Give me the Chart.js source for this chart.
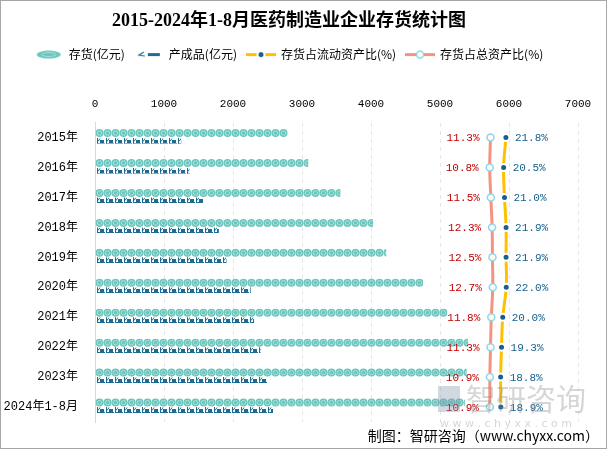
<!DOCTYPE html>
<html>
<head>
<meta charset="utf-8">
<script src="https://cdn.jsdelivr.net/npm/chart.js@4.4.1/dist/chart.umd.min.js"></script>
<style>
  html, body { margin: 0; padding: 0; background: #fff; }
</style>
</head>
<body>
<canvas id="chart" width="607" height="449"></canvas>
<script>
// ====== datos ======
const categories = ['2015年', '2016年', '2017年', '2018年', '2019年', '2020年', '2021年', '2022年', '2023年', '2024年1-8月'];
const inventory = [2790, 3090, 3555, 4030, 4220, 4755, 5105, 5405, 5385, 5360];   // 存货(亿元)
const finished = [1250, 1370, 1565, 1795, 1905, 2255, 2305, 2400, 2500, 2580];    // 产成品(亿元)
const ratioCurrent = [21.8, 20.5, 21.0, 21.9, 21.9, 22.0, 20.0, 19.3, 18.8, 18.9]; // 存货占流动资产比(%)
const ratioTotal = [11.3, 10.8, 11.5, 12.3, 12.5, 12.7, 11.8, 11.3, 10.9, 10.9];   // 存货占总资产比(%)
const xTicks = [0, 1000, 2000, 3000, 4000, 5000, 6000, 7000];

const TEAL = '#6cc6bd';
const NAVY = '#1d6a93';
const CJK = "'Noto Sans CJK SC'";

// dibujos de los iconos
function drawCoin(ctx, cx, cy, r) {
  ctx.beginPath();
  ctx.arc(cx, cy, r, 0, Math.PI * 2);
  ctx.fillStyle = TEAL;
  ctx.fill();
  ctx.beginPath();
  ctx.arc(cx, cy, r * 0.55, 0, Math.PI * 2);
  ctx.strokeStyle = '#a8e1db';
  ctx.lineWidth = 1;
  ctx.stroke();
}

function drawTruck(ctx, x0, top, h) {
  ctx.fillStyle = NAVY;
  ctx.fillRect(x0, top, 1, h);
  ctx.fillRect(x0 + 3, top + 2, 4, h - 3);
  ctx.fillRect(x0, top + h - 1, 8, 1);
  ctx.strokeStyle = NAVY;
  ctx.lineWidth = 1;
  ctx.beginPath();
  ctx.moveTo(x0 + 1, top + 3.5);
  ctx.lineTo(x0 + 3, top + 0.5);
  ctx.stroke();
}

function makeIcon(w, h, fn) {
  const c = document.createElement('canvas');
  c.width = w;
  c.height = h;
  fn(c.getContext('2d'));
  return c;
}

const legendIcons = [
  makeIcon(26, 9, (ctx) => {
    ctx.beginPath();
    ctx.ellipse(13, 4.5, 12, 4, 0, 0, Math.PI * 2);
    ctx.fillStyle = TEAL;
    ctx.fill();
    ctx.beginPath();
    ctx.ellipse(13, 4.5, 7, 2, 0, 0, Math.PI * 2);
    ctx.strokeStyle = '#a8e1db';
    ctx.stroke();
  }),
  makeIcon(24, 9, (ctx) => {
    ctx.strokeStyle = NAVY;
    ctx.lineWidth = 1.2;
    ctx.beginPath();
    ctx.moveTo(7, 2); ctx.lineTo(2, 5); ctx.lineTo(8, 6);
    ctx.stroke();
    ctx.fillStyle = NAVY;
    ctx.fillRect(11, 3, 12, 3);
  }),
  makeIcon(30, 11, (ctx) => {
    ctx.strokeStyle = '#ffc000';
    ctx.lineWidth = 3;
    ctx.beginPath();
    ctx.moveTo(0, 5.5); ctx.lineTo(30, 5.5);
    ctx.stroke();
    ctx.beginPath();
    ctx.arc(15, 5.5, 4.5, 0, Math.PI * 2);
    ctx.fillStyle = '#fff';
    ctx.fill();
    ctx.beginPath();
    ctx.arc(15, 5.5, 2.5, 0, Math.PI * 2);
    ctx.fillStyle = '#17608c';
    ctx.fill();
  }),
  makeIcon(30, 11, (ctx) => {
    ctx.strokeStyle = '#f4937f';
    ctx.lineWidth = 3;
    ctx.beginPath();
    ctx.moveTo(0, 5.5); ctx.lineTo(30, 5.5);
    ctx.stroke();
    ctx.beginPath();
    ctx.arc(15, 5.5, 3.5, 0, Math.PI * 2);
    ctx.fillStyle = '#fdfbea';
    ctx.fill();
    ctx.strokeStyle = '#8fd4f1';
    ctx.lineWidth = 1.5;
    ctx.stroke();
  })
];

// barras pictoricas (monedas / camiones)
const pictorial = {
  id: 'pictorial',
  afterDatasetDraw(chart, args) {
    const ds = chart.data.datasets[args.index];
    if (!ds.pictorial) return;
    const ctx = chart.ctx;
    args.meta.data.forEach((bar) => {
      const { x, y, base, height } = bar.getProps(['x', 'y', 'base', 'height'], true);
      const top = y - height / 2;
      ctx.save();
      ctx.beginPath();
      ctx.rect(base, top, x - base, height);
      ctx.clip();
      if (ds.pictorial === 'coin') {
        for (let cx = base; cx < x; cx += 8) drawCoin(ctx, cx + 4, y, 4);
      } else {
        for (let cx = base; cx < x; cx += 9) drawTruck(ctx, Math.round(cx) + 1, Math.round(top), height);
      }
      ctx.restore();
    });
  }
};

// etiquetas de porcentaje (dataset 0 = flujo, dataset 1 = total)
const ratioLabels = {
  id: 'ratioLabels',
  afterDatasetsDraw(chart) {
    const ctx = chart.ctx;
    ctx.save();
    ctx.font = "11px 'Liberation Mono'";
    ctx.textBaseline = 'middle';
    chart.getDatasetMeta(0).data.forEach((pt, i) => {
      ctx.fillStyle = '#17608c';
      ctx.textAlign = 'left';
      ctx.fillText(ratioCurrent[i].toFixed(1) + '%', pt.x + 9, pt.y + 1);
    });
    chart.getDatasetMeta(1).data.forEach((pt, i) => {
      ctx.fillStyle = '#c00000';
      ctx.textAlign = 'right';
      ctx.fillText(ratioTotal[i].toFixed(1) + '%', pt.x - 11, pt.y + 1);
    });
    ctx.restore();
  }
};

// fondo, marco, fuente y marca de agua
const frame = {
  id: 'frame',
  beforeDraw(chart) {
    const ctx = chart.ctx;
    ctx.save();
    ctx.fillStyle = '#fff';
    ctx.fillRect(0, 0, chart.width, chart.height);
    ctx.restore();
  },
  afterDraw(chart) {
    const ctx = chart.ctx;
    ctx.save();
    // marca de agua
    ctx.globalAlpha = 0.35;
    ctx.fillStyle = '#7f8fa6';
    ctx.fillRect(438, 386, 22, 26);
    ctx.fillStyle = '#8a8a8a';
    ctx.font = "30px " + CJK;
    ctx.textAlign = 'left';
    ctx.textBaseline = 'middle';
    ctx.fillText('智研咨询', 466, 399);
    ctx.font = "11px 'DejaVu Sans'";
    ctx.fillText('w w w . c h y x x . c o m', 440, 424);
    ctx.globalAlpha = 1;
    // fuente
    ctx.fillStyle = '#000';
    ctx.font = "14px " + CJK;
    ctx.textAlign = 'right';
    ctx.fillText('制图：智研咨询（www.chyxx.com）', 599, 436);
    // marco
    ctx.strokeStyle = '#a6a6a6';
    ctx.lineWidth = 1;
    ctx.strokeRect(0.5, 0.5, chart.width - 1, chart.height - 1);
    ctx.restore();
  }
};

new Chart(document.getElementById('chart'), {
  data: {
    labels: categories,
    datasets: [
      {
        type: 'line',
        label: '存货占流动资产比(%)',
        data: ratioCurrent,
        xAxisID: 'x3',
        yAxisID: 'y',
        borderColor: '#ffc000',
        borderWidth: 3,
        tension: 0.4,
        pointRadius: 3.5,
        pointBackgroundColor: '#17608c',
        pointBorderColor: '#ffffff',
        pointBorderWidth: 2,
        order: 1
      },
      {
        type: 'line',
        label: '存货占总资产比(%)',
        data: ratioTotal,
        xAxisID: 'x2',
        yAxisID: 'y',
        borderColor: '#f4937f',
        borderWidth: 3,
        tension: 0.4,
        pointRadius: 3.5,
        pointBackgroundColor: '#fdfbea',
        pointBorderColor: '#8fd4f1',
        pointBorderWidth: 1.5,
        order: 1
      },
      {
        type: 'bar',
        label: '存货(亿元)',
        data: inventory,
        xAxisID: 'x',
        backgroundColor: 'rgba(0,0,0,0)',
        barThickness: 9,
        pictorial: 'coin',
        order: 2
      },
      {
        type: 'bar',
        label: '产成品(亿元)',
        data: finished,
        xAxisID: 'x',
        backgroundColor: 'rgba(0,0,0,0)',
        barThickness: 6,
        pictorial: 'truck',
        order: 2
      }
    ]
  },
  options: {
    indexAxis: 'y',
    responsive: false,
    animation: false,
    devicePixelRatio: 1,
    layout: { padding: { left: 0, right: 29, top: 0, bottom: 27 } },
    plugins: {
      tooltip: { enabled: false },
      title: {
        display: true,
        text: '2015-2024年1-8月医药制造业企业存货统计图',
        color: '#000',
        font: { size: 18, weight: 'bold', family: "'Liberation Serif', " + CJK },
        padding: { top: 11, bottom: 6 }
      },
      legend: {
        labels: {
          usePointStyle: true,
          pointStyleWidth: 28,
          padding: 10,
          color: '#000',
          font: { size: 12, family: CJK },
          generateLabels() {
            const names = ['存货(亿元)', '产成品(亿元)', '存货占流动资产比(%)', '存货占总资产比(%)'];
            return names.map((t, i) => ({
              text: t,
              pointStyle: legendIcons[i],
              fillStyle: 'rgba(0,0,0,0)',
              strokeStyle: 'rgba(0,0,0,0)',
              lineWidth: 0,
              hidden: false,
              fontColor: '#000',
              datasetIndex: i
            }));
          }
        },
        onClick() {}
      }
    },
    scales: {
      x: {
        position: 'top',
        min: 0,
        max: 7000,
        afterBuildTicks(scale) { scale.ticks = xTicks.map((v) => ({ value: v })); },
        afterFit(scale) { scale.height = 52; },
        ticks: {
          color: '#000',
          padding: 12,
          font: { size: 11, family: "'Liberation Mono'" },
          callback: (v) => String(v)
        },
        grid: { color: '#e6e6e6', drawTicks: false },
        border: { display: false, dash: [4, 4] }
      },
      x2: { display: false, position: 'top', min: -236, max: 66 },
      x3: { display: false, position: 'top', min: -213, max: 63 },
      y: {
        afterFit(scale) { scale.width = 95; },
        ticks: {
          color: '#000',
          padding: 9,
          font: { size: 12, family: "'Liberation Mono', " + CJK }
        },
        grid: { display: false },
        border: { display: true, color: '#d9d9d9' }
      }
    }
  },
  plugins: [pictorial, ratioLabels, frame]
});
</script>
</body>
</html>
